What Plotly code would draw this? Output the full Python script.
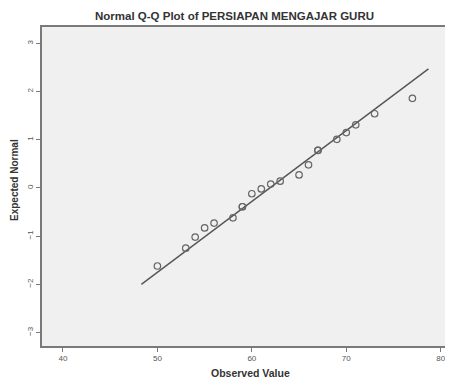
import plotly.graph_objects as go

observed = [50, 53, 54, 55, 56, 58, 59, 59, 60, 61, 62, 63, 65, 66, 67, 67, 69, 70, 71, 73, 77]
expected = [-1.62, -1.25, -1.02, -0.83, -0.73, -0.62, -0.39, -0.39, -0.12, -0.02, 0.08, 0.14,
            0.27, 0.48, 0.78, 0.78, 1.01, 1.15, 1.31, 1.54, 1.86]
line_x = [48.3, 78.7]
line_mean = 61.9
line_sd = 6.8
line_y = [(v - line_mean) / line_sd for v in line_x]
x_ticks = [40, 50, 60, 70, 80]
y_ticks = [-3, -2, -1, 0, 1, 2, 3]

# page body has an 8px default margin; plot area targeted at page x 42..453, y 27..346
PL, PR, PT, PB = 42, 453, 27, 346
PW, PH = PR - PL, PB - PT

fig = go.Figure()
fig.add_trace(go.Scatter(x=line_x, y=line_y, mode="lines",
                         line=dict(color="#555555", width=1.4), hoverinfo="skip"))
fig.add_trace(go.Scatter(x=observed, y=expected, mode="markers",
                         marker=dict(symbol="circle-open", size=6.5,
                                     color="#666666", line=dict(width=1.2))))

fig.update_layout(
    width=453, height=380,
    margin=dict(l=PL - 8, r=8, t=PT - 8, b=380 + 8 - PB),
    paper_bgcolor="white", plot_bgcolor="#f0f0f0",
    showlegend=False,
    font=dict(family="Liberation Sans, Arial, sans-serif", color="#555555", size=8),
    annotations=[
        dict(text="<b>Normal Q-Q Plot of PERSIAPAN MENGAJAR GURU</b>", xref="paper", yref="paper",
             x=(234 - PL) / PW, y=1, yshift=PT - 16, xanchor="center", yanchor="middle",
             showarrow=False, font=dict(size=11.5, color="#333333")),
        dict(text="<b>Observed Value</b>", xref="paper", yref="paper",
             x=(250 - PL) / PW, y=0, yshift=-(373 - PB), xanchor="center", yanchor="middle",
             showarrow=False, font=dict(size=10.5, color="#333333")),
        dict(text="<b>Expected Normal</b>", xref="paper", yref="paper",
             x=0, xshift=-(PL - 15), y=(PB - 180) / PH, xanchor="center", yanchor="middle",
             textangle=-90, showarrow=False, font=dict(size=10, color="#333333")),
    ],
)
fig.update_xaxes(range=[37.78, 81.3], tickvals=x_ticks, showgrid=False, zeroline=False,
                 automargin=False,
                 showline=True, linecolor="#7a7a7a", linewidth=1.5, mirror=True,
                 ticks="outside", ticklen=4, tickcolor="#7a7a7a",
                 tickfont=dict(size=8, color="#555555"))
fig.update_yaxes(range=[-3.28, 3.34], tickvals=y_ticks, showgrid=False, zeroline=False,
                 automargin=False,
                 showline=True, linecolor="#7a7a7a", linewidth=1.5,
                 ticks="outside", ticklen=4, tickcolor="#7a7a7a", tickangle=-90,
                 tickfont=dict(size=8, color="#555555"))

fig.write_html("out.html")
